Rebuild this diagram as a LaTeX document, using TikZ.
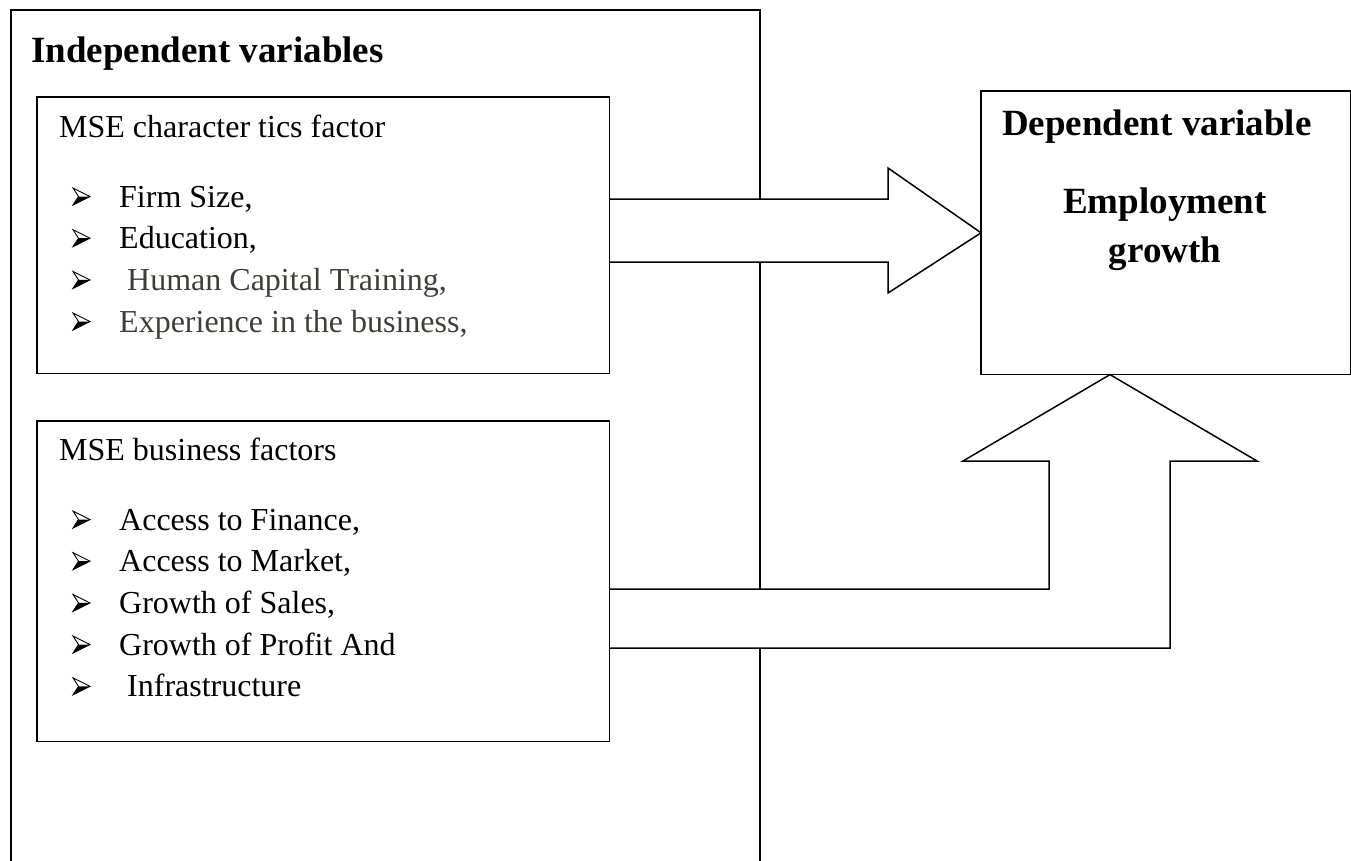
\documentclass[tikz,border=0pt]{standalone}
\usepackage{fontspec}
\setmainfont{Liberation Serif}
\definecolor{greytext}{RGB}{62,64,56}
\begin{document}
\begin{tikzpicture}[x=1pt,y=-1pt,
  frame/.style={line width=1.6pt},
  box/.style={draw, line width=1.6pt, inner sep=0pt, anchor=north west},
  blockarrow/.style={draw, fill=white, line width=1.5pt, line join=miter},
  body/.style={anchor=base west, inner sep=0pt, font=\fontsize{32}{38}\selectfont},
  title/.style={anchor=base west, inner sep=0pt, font=\bfseries\fontsize{37}{44}\selectfont},
  ctitle/.style={anchor=base, inner sep=0pt, font=\bfseries\fontsize{37}{44}\selectfont},
  arrowbullet/.pic={
    \fill[black] (-3,0) -- (8.5,0) -- (-8.5,8.5) -- cycle;
    \draw[line width=0.9pt, line join=miter] (-3,0) -- (-8.5,-8.5) -- (8.5,0) -- (-8.5,8.5) -- cycle;
  }]
\useasboundingbox (0,0) rectangle (1351,860);
% outer frame, open at the bottom
\coordinate (fBL) at (11,870);
\coordinate (fTL) at (11,10);
\coordinate (fTR) at (760,10);
\coordinate (fBR) at (760,870);
\draw[frame] (fBL) -- (fTL) -- (fTR) -- (fBR);
% boxes (positions only, outlines drawn after arrows)
\path node[box, draw=none, minimum width=571, minimum height=275] (b1) at (37,97) {}
      node[box, draw=none, minimum width=571, minimum height=319] (b2) at (37,421) {}
      node[box, draw=none, minimum width=368, minimum height=282] (dep) at (981,91) {};
% block arrows
\draw[blockarrow] (b1.east |- 0,199) -- (888,199) -- (888,168) -- (dep.west)
   -- (888,293) -- (888,262) -- (b1.east |- 0,262);
\draw[blockarrow] (b2.east |- 0,589) -- (1049,589) -- (1049,461) -- (963,461)
   -- (dep.south -| 1110,0) -- (1257,461) -- (1170,461) -- (1170,648) -- (b2.east |- 0,648);
% box outlines
\draw[line width=1.6pt] (b1.north west) rectangle (b1.south east);
\draw[line width=1.6pt] (b2.north west) rectangle (b2.south east);
\draw[line width=1.6pt] (dep.north west) rectangle (dep.south east);
% texts
\node[title] (tind) at (31,62) {Independent variables};
\node[body] (h1) at (59,137) {MSE character tics factor};
\pic at (81.5,196.5) {arrowbullet};
\node[body] (l1) at (119,207) {Firm Size,};
\pic at (81.5,238.2) {arrowbullet};
\node[body] (l2) at (119,248.7) {Education,};
\pic at (81.5,279.9) {arrowbullet};
\node[body, text=greytext] (l3) at (127,290.4) {Human Capital Training,};
\pic at (81.5,321.5) {arrowbullet};
\node[body, text=greytext] (l4) at (119,332) {Experience in the business,};
\node[body] (h2) at (59,460) {MSE business factors};
\pic at (81.5,519.5) {arrowbullet};
\node[body] (m1) at (119,530) {Access to Finance,};
\pic at (81.5,561.2) {arrowbullet};
\node[body] (m2) at (119,571.7) {Access to Market,};
\pic at (81.5,602.9) {arrowbullet};
\node[body] (m3) at (119,613.4) {Growth of Sales,};
\pic at (81.5,644.6) {arrowbullet};
\node[body] (m4) at (119,655.1) {Growth of Profit And};
\pic at (81.5,686.3) {arrowbullet};
\node[body] (m5) at (127,696.8) {Infrastructure};
\node[title] (tdep) at (1002,135) {Dependent variable};
\node[ctitle] (te1) at (1165,213) {Employment};
\node[ctitle] (te2) at (1165,262) {growth};
\end{tikzpicture}
\end{document}
